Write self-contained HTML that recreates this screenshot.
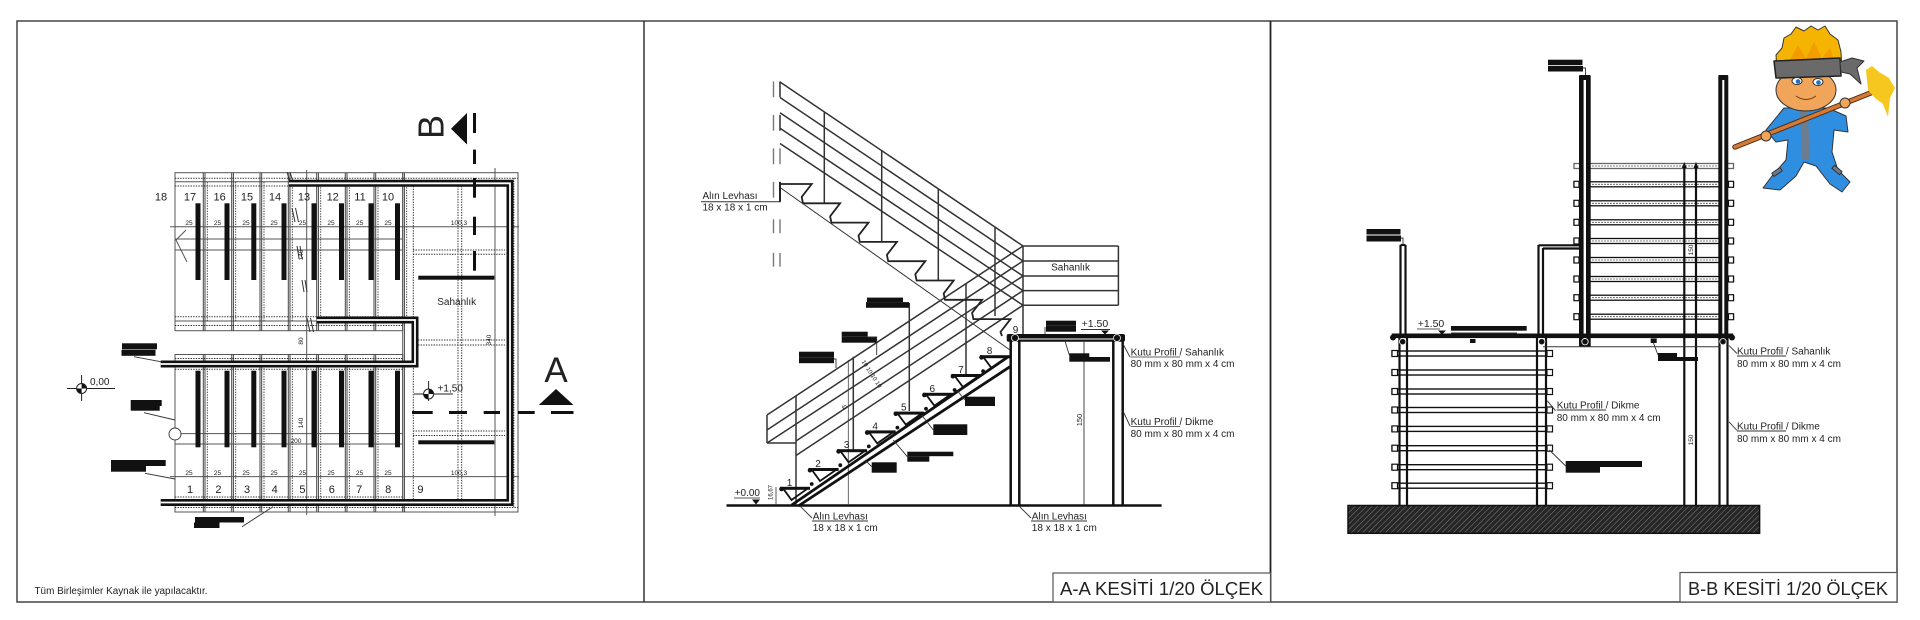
<!DOCTYPE html>
<html><head><meta charset="utf-8"><style>
html,body{margin:0;padding:0;background:#fff;}
svg{display:block;}
text{font-family:"Liberation Sans",Arial,sans-serif;fill:#222;}
</style></head><body>
<svg width="1920" height="620" viewBox="0 0 1920 620" xmlns="http://www.w3.org/2000/svg">
<defs>
<pattern id="hatch" width="4" height="4" patternUnits="userSpaceOnUse" patternTransform="rotate(45)">
<rect width="4" height="4" fill="#262626"/>
<line x1="0" y1="0" x2="0" y2="4" stroke="#808080" stroke-width="1"/>
</pattern>
</defs>
<rect width="1920" height="620" fill="#fff"/>
<!-- FRAME -->
<rect x="17" y="21" width="1880" height="581" fill="none" stroke="#444" stroke-width="1.5"/>
<line x1="644" y1="21" x2="644" y2="602" stroke="#333" stroke-width="1.5"/>
<line x1="1270.5" y1="21" x2="1270.5" y2="602" stroke="#222" stroke-width="1.8"/>

<!-- ================= PLAN VIEW ================= -->
<g stroke="#555" stroke-width="1" fill="none">
  <rect x="175" y="172.7" width="227.7" height="158"/>
  <rect x="175" y="354.5" width="227.7" height="157.5"/>
  <rect x="402.7" y="172.7" width="115.3" height="339.3"/>
  <line x1="175" y1="181.7" x2="402.7" y2="181.7"/>
  <line x1="175" y1="321" x2="402.7" y2="321"/>
  <line x1="175" y1="363" x2="402.7" y2="363"/>
  <line x1="175" y1="503" x2="402.7" y2="503"/>
  <g stroke="#444">
  <line x1="203.3" y1="172.7" x2="203.3" y2="330.7"/><line x1="205" y1="172.7" x2="205" y2="330.7"/>
  <line x1="231.7" y1="172.7" x2="231.7" y2="330.7"/><line x1="233.4" y1="172.7" x2="233.4" y2="330.7"/>
  <line x1="260" y1="172.7" x2="260" y2="330.7"/><line x1="261.7" y1="172.7" x2="261.7" y2="330.7"/>
  <line x1="288.3" y1="172.7" x2="288.3" y2="330.7"/><line x1="290" y1="172.7" x2="290" y2="330.7"/>
  <line x1="316.7" y1="172.7" x2="316.7" y2="330.7"/><line x1="318.4" y1="172.7" x2="318.4" y2="330.7"/>
  <line x1="345.3" y1="172.7" x2="345.3" y2="330.7"/><line x1="347" y1="172.7" x2="347" y2="330.7"/>
  <line x1="374" y1="172.7" x2="374" y2="330.7"/><line x1="375.7" y1="172.7" x2="375.7" y2="330.7"/>
  <line x1="404.4" y1="172.7" x2="404.4" y2="512"/>
  <line x1="203.3" y1="354.5" x2="203.3" y2="512"/><line x1="205" y1="354.5" x2="205" y2="512"/>
  <line x1="231.7" y1="354.5" x2="231.7" y2="512"/><line x1="233.4" y1="354.5" x2="233.4" y2="512"/>
  <line x1="260" y1="354.5" x2="260" y2="512"/><line x1="261.7" y1="354.5" x2="261.7" y2="512"/>
  <line x1="288.3" y1="354.5" x2="288.3" y2="512"/><line x1="290" y1="354.5" x2="290" y2="512"/>
  <line x1="316.7" y1="354.5" x2="316.7" y2="512"/><line x1="318.4" y1="354.5" x2="318.4" y2="512"/>
  <line x1="345.3" y1="354.5" x2="345.3" y2="512"/><line x1="347" y1="354.5" x2="347" y2="512"/>
  <line x1="374" y1="354.5" x2="374" y2="512"/><line x1="375.7" y1="354.5" x2="375.7" y2="512"/>
  </g>
  <line x1="170" y1="226.7" x2="519" y2="226.7"/>
  <line x1="175" y1="239" x2="403" y2="239"/>
  <line x1="175" y1="250" x2="403" y2="250"/>
  <line x1="181" y1="433.6" x2="403" y2="433.6"/>
  <line x1="175" y1="444" x2="403" y2="444"/>
  <line x1="170" y1="476.6" x2="519" y2="476.6"/>
  <line x1="306.7" y1="170" x2="306.7" y2="515"/>
  <line x1="495" y1="168" x2="495" y2="516"/>
  <polyline points="186,230 176,240 187,262"/>
</g>
<!-- dotted lines -->
<g stroke="#333" stroke-width="1" stroke-dasharray="1.4,1.2" fill="none">
  <line x1="175" y1="178.3" x2="402.7" y2="178.3"/>
  <line x1="175" y1="186" x2="402.7" y2="186"/>
  <line x1="175" y1="316.7" x2="402.7" y2="316.7"/>
  <line x1="175" y1="325.5" x2="402.7" y2="325.5"/>
  <line x1="175" y1="358.5" x2="402.7" y2="358.5"/>
  <line x1="175" y1="369.3" x2="402.7" y2="369.3"/>
  <line x1="175" y1="497" x2="402.7" y2="497"/>
  <line x1="175" y1="507.5" x2="402.7" y2="507.5"/>
  <line x1="402.7" y1="178.3" x2="518" y2="178.3"/>
  <line x1="402.7" y1="507.5" x2="518" y2="507.5"/>
  <line x1="413.3" y1="186" x2="413.3" y2="500"/>
  <line x1="458" y1="186" x2="458" y2="500"/>
  <line x1="461.7" y1="186" x2="461.7" y2="500"/>
  <line x1="513.8" y1="178" x2="513.8" y2="508"/>
  <line x1="413" y1="250" x2="505" y2="250"/>
  <line x1="413" y1="254.3" x2="505" y2="254.3"/>
  <line x1="418" y1="340" x2="505" y2="340"/>
  <line x1="418" y1="345" x2="505" y2="345"/>
  <line x1="413" y1="431" x2="505" y2="431"/>
  <line x1="413" y1="435.5" x2="505" y2="435.5"/>
  <g stroke-width="0.9">
  <line x1="207.3" y1="182" x2="207.3" y2="321"/>
  <line x1="235.7" y1="182" x2="235.7" y2="321"/>
  <line x1="264" y1="182" x2="264" y2="321"/>
  <line x1="292.3" y1="182" x2="292.3" y2="321"/>
  <line x1="320.7" y1="182" x2="320.7" y2="321"/>
  <line x1="349.3" y1="182" x2="349.3" y2="321"/>
  <line x1="378" y1="182" x2="378" y2="321"/>
  <line x1="406.7" y1="182" x2="406.7" y2="321"/>
  <line x1="207.3" y1="363" x2="207.3" y2="503"/>
  <line x1="235.7" y1="363" x2="235.7" y2="503"/>
  <line x1="264" y1="363" x2="264" y2="503"/>
  <line x1="292.3" y1="363" x2="292.3" y2="503"/>
  <line x1="320.7" y1="363" x2="320.7" y2="503"/>
  <line x1="349.3" y1="363" x2="349.3" y2="503"/>
  <line x1="378" y1="363" x2="378" y2="503"/>
  </g>
</g>
<!-- break marks -->
<g stroke="#333" stroke-width="1" fill="none">
  <line x1="287" y1="172" x2="290" y2="182"/><line x1="290" y1="172" x2="293" y2="182"/>
  <line x1="292" y1="208" x2="295" y2="222"/><line x1="295.5" y1="208" x2="298.5" y2="222"/>
  <line x1="297" y1="246" x2="299" y2="258"/><line x1="300" y1="246" x2="302" y2="258"/>
  <line x1="302" y1="280" x2="304" y2="292"/><line x1="305" y1="280" x2="307" y2="292"/>
  <line x1="307" y1="318" x2="310" y2="332"/><line x1="310.5" y1="318" x2="313.5" y2="332"/>
</g>
<!-- tread bars -->
<g fill="#111">
  <rect x="195.5" y="203.3" width="5" height="76.7"/><rect x="224.5" y="203.3" width="5" height="76.7"/>
  <rect x="251.3" y="203.3" width="5" height="76.7"/><rect x="281.5" y="203.3" width="5" height="76.7"/>
  <rect x="311.5" y="203.3" width="5" height="76.7"/><rect x="339" y="203.3" width="5" height="76.7"/>
  <rect x="368.5" y="203.3" width="5" height="76.7"/><rect x="395" y="203.3" width="5" height="76.7"/>
  <rect x="195.5" y="370.7" width="5" height="76.6"/><rect x="224.5" y="370.7" width="5" height="76.6"/>
  <rect x="251.3" y="370.7" width="5" height="76.6"/><rect x="281.5" y="370.7" width="5" height="76.6"/>
  <rect x="311.5" y="370.7" width="5" height="76.6"/><rect x="339" y="370.7" width="5" height="76.6"/>
  <rect x="368.5" y="370.7" width="5" height="76.6"/><rect x="395" y="370.7" width="5" height="76.6"/>
  <rect x="418.3" y="275.7" width="76" height="4"/>
  <rect x="418.3" y="440.3" width="76" height="4"/>
</g>
<!-- handrails -->
<g fill="none" stroke-linejoin="miter">
  <path d="M289,183.3 H510 V502.5 H160.7" stroke="#111" stroke-width="7"/>
  <path d="M289,183.3 H510 V502.5 H160.7" stroke="#fff" stroke-width="1.8"/>
  <path d="M316.7,320 H415 V364 H160.7" stroke="#111" stroke-width="7"/>
  <path d="M316.7,320 H415 V364 H160.7" stroke="#fff" stroke-width="1.8"/>
</g>
<!-- numbers -->
<g font-size="11" text-anchor="middle">
  <text x="161" y="200.5">18</text><text x="190" y="200.5">17</text><text x="219.6" y="200.5">16</text>
  <text x="247" y="200.5">15</text><text x="275" y="200.5">14</text><text x="304" y="200.5">13</text>
  <text x="332.7" y="200.5">12</text><text x="360" y="200.5">11</text><text x="388" y="200.5">10</text>
  <text x="190" y="493">1</text><text x="218.4" y="493">2</text><text x="247" y="493">3</text>
  <text x="274.7" y="493">4</text><text x="302.4" y="493">5</text><text x="331.8" y="493">6</text>
  <text x="359.2" y="493">7</text><text x="388.2" y="493">8</text><text x="420.4" y="493">9</text>
</g>
<g font-size="6.5" text-anchor="middle">
  <text x="189" y="225">25</text><text x="217.5" y="225">25</text><text x="246" y="225">25</text><text x="274" y="225">25</text>
  <text x="302.5" y="225">25</text><text x="331" y="225">25</text><text x="359.6" y="225">25</text><text x="388" y="225">25</text>
  <text x="459" y="225">100,3</text>
  <text x="189" y="475">25</text><text x="217.5" y="475">25</text><text x="246" y="475">25</text><text x="274" y="475">25</text>
  <text x="302.5" y="475">25</text><text x="331" y="475">25</text><text x="359.6" y="475">25</text><text x="388" y="475">25</text>
  <text x="459" y="475">100,3</text>
  <text x="296" y="443">200</text>
  <text transform="translate(303,341) rotate(-90)">80</text>
  <text transform="translate(303,255) rotate(-90)">140</text>
  <text transform="translate(303,423) rotate(-90)">140</text>
  <text transform="translate(491,340) rotate(-90)">340</text>
</g>
<text x="456.7" y="305" font-size="10" text-anchor="middle">Sahanlık</text>
<!-- section B marker -->
<g fill="#111">
  <rect x="473" y="113" width="3" height="20"/>
  <rect x="473" y="149.6" width="3" height="14.4"/>
  <rect x="473" y="178" width="3" height="19.7"/>
  <rect x="473" y="216.7" width="3" height="18.3"/>
  <rect x="473" y="251" width="3" height="19.7"/>
  <polygon points="451,128.7 467,113 467,144.5"/>
</g>
<text transform="translate(443.5,127) rotate(-90)" font-size="36" text-anchor="middle" fill="#111">B</text>
<!-- section A marker -->
<g fill="#111">
  <rect x="412" y="411" width="20.7" height="3"/>
  <rect x="449" y="411" width="18" height="3"/>
  <rect x="483.7" y="411" width="16.3" height="3"/>
  <rect x="518" y="411" width="16.7" height="3"/>
  <rect x="551" y="411" width="22.5" height="3"/>
  <polygon points="538.8,405 573.5,405 556,389"/>
</g>
<text x="556" y="382" font-size="35" text-anchor="middle" fill="#111">A</text>
<!-- elevation markers -->
<g stroke="#222" stroke-width="1" fill="none">
  <line x1="67" y1="388.5" x2="115" y2="388.5"/>
  <line x1="81.6" y1="375" x2="81.6" y2="401"/>
  <circle cx="81.6" cy="388.5" r="5" fill="#fff"/>
  <line x1="414" y1="394" x2="453" y2="394"/>
  <line x1="428.6" y1="381" x2="428.6" y2="401"/>
  <circle cx="428.6" cy="394" r="5" fill="#fff"/>
</g>
<path d="M81.6,388.5 V383.5 A5,5 0 0 1 86.6,388.5 Z M81.6,388.5 V393.5 A5,5 0 0 1 76.6,388.5 Z" fill="#111"/>
<path d="M428.6,394 V389 A5,5 0 0 1 433.6,394 Z M428.6,394 V399 A5,5 0 0 1 423.6,394 Z" fill="#111"/>
<text x="90" y="385" font-size="10">0,00</text>
<text x="437.6" y="391.5" font-size="10">+1,50</text>
<!-- labels -->
<g fill="#111">
  <rect x="122" y="343.3" width="35" height="6"/><rect x="121.5" y="349.8" width="34" height="6"/>
  <rect x="130.7" y="400" width="31" height="6"/><rect x="130.7" y="406" width="29" height="4.7"/>
  <rect x="111" y="460" width="54.7" height="6"/><rect x="111" y="466" width="35" height="5.7"/>
  <rect x="195" y="517" width="49" height="5.5"/><rect x="194" y="522.5" width="25.5" height="5.5"/>
</g>
<g stroke="#333" stroke-width="0.9" fill="none">
  <line x1="134" y1="356.7" x2="160.7" y2="361.7"/>
  <line x1="144" y1="412.7" x2="175" y2="420"/>
  <line x1="145" y1="473.3" x2="175" y2="479"/>
  <line x1="242" y1="526.7" x2="273" y2="506.7"/>
  <circle cx="175" cy="434" r="6" fill="#fff"/>
</g>
<text x="34.5" y="594" font-size="10" textLength="173" lengthAdjust="spacingAndGlyphs">Tüm Birleşimler Kaynak ile yapılacaktır.</text>

<!-- ================= SECTION A-A ================= -->
<line x1="726.5" y1="505.5" x2="1161.6" y2="505.5" stroke="#111" stroke-width="2.5"/>
<text x="734.7" y="496" font-size="10">+0.00</text>
<line x1="734" y1="498" x2="760" y2="498" stroke="#222" stroke-width="0.8"/>
<polygon points="752,499.5 760,499.5 756,504.5" fill="#111"/>
<line x1="776" y1="487" x2="776" y2="505" stroke="#333" stroke-width="0.8"/>
<text transform="translate(772.6,500) rotate(-90)" font-size="6">16,67</text>
<g stroke-width="1.4">
  <line x1="773.5" y1="81.4" x2="773.5" y2="97.2" stroke="#777"/><line x1="780" y1="81.4" x2="780" y2="97.2" stroke="#222"/>
  <line x1="773.5" y1="114.9" x2="773.5" y2="130.7" stroke="#777"/><line x1="780" y1="114.9" x2="780" y2="130.7" stroke="#222"/>
  <line x1="773.5" y1="148.4" x2="773.5" y2="164.2" stroke="#777"/><line x1="780" y1="148.4" x2="780" y2="164.2" stroke="#777"/>
  <line x1="773.5" y1="181.9" x2="773.5" y2="197.7" stroke="#777"/><line x1="780" y1="181.9" x2="780" y2="201.7" stroke="#222" stroke-width="2"/>
  <line x1="773.5" y1="219.4" x2="773.5" y2="233.2" stroke="#777"/><line x1="780" y1="219.4" x2="780" y2="233.2" stroke="#777"/>
  <line x1="773.5" y1="252.9" x2="773.5" y2="266.7" stroke="#777"/><line x1="780" y1="252.9" x2="780" y2="266.7" stroke="#777"/>
</g>
<g stroke="#333" stroke-width="1.5" fill="none">
  <line x1="780" y1="82" x2="1023" y2="246"/>
  <line x1="780" y1="97.5" x2="1023" y2="261"/>
  <line x1="780" y1="112.8" x2="1023" y2="276"/>
  <line x1="780" y1="128.2" x2="1023" y2="290.6"/>
  <line x1="780" y1="143.5" x2="1023" y2="305.2"/>
  <line x1="824.3" y1="112.3" x2="824.3" y2="203.3"/>
  <line x1="881.7" y1="151" x2="881.7" y2="241.7"/>
  <line x1="938.3" y1="189.3" x2="938.3" y2="280"/>
  <line x1="995" y1="227.5" x2="995" y2="316"/>
  <line x1="1023" y1="246" x2="1023" y2="334"/>
  <line x1="1023" y1="246" x2="1118.4" y2="246"/>
  <line x1="1023" y1="261" x2="1118.4" y2="261"/>
  <line x1="1023" y1="276" x2="1118.4" y2="276"/>
  <line x1="1023" y1="290.6" x2="1118.4" y2="290.6"/>
  <line x1="1023" y1="305.2" x2="1118.4" y2="305.2"/>
  <line x1="1118.4" y1="246" x2="1118.4" y2="305.2"/>
  <line x1="767" y1="415" x2="1023" y2="246"/>
  <line x1="767" y1="430" x2="1023" y2="261"/>
  <line x1="767" y1="443" x2="1023" y2="276"/>
  <line x1="796" y1="441" x2="1023" y2="290.6"/>
  <line x1="796" y1="455.5" x2="1023" y2="305.2"/>
  <line x1="767" y1="415" x2="767" y2="443"/>
  <line x1="767" y1="443" x2="796" y2="443"/>
  <line x1="796" y1="396" x2="796" y2="505"/>
  <line x1="853.3" y1="356.7" x2="853.3" y2="450.7"/>
  <line x1="909.3" y1="303" x2="909.3" y2="411"/>
  <line x1="966" y1="284" x2="966" y2="375"/>
</g>
<line x1="848.3" y1="360" x2="848.3" y2="505" stroke="#444" stroke-width="0.8"/>
<text transform="translate(847,407) rotate(-90)" font-size="7" text-anchor="middle">6</text>
<text transform="translate(870,375) rotate(57)" font-size="6" text-anchor="middle">10  10  10  10</text>
<polyline fill="none" stroke="#222" stroke-width="1.8" points="780.7,184 811.7,184 801.7,197 803,203.3 809.1,203.3 840.1,203.3 830.1,216.3 831.4,222.6 837.5,222.6 868.5,222.6 858.5,235.6 859.8,241.9 865.9,241.9 896.9,241.9 886.9,254.9 888.2,261.2 894.3,261.2 925.3,261.2 915.3,274.2 916.6,280.5 922.7,280.5 953.7,280.5 943.7,293.5 945,299.8 951.1,299.8 982.1,299.8 972.1,312.8 973.4,319.1 979.5,319.1 1010.5,319.1 1000.5,332 1002,336"/>
<line x1="780.7" y1="188" x2="1010" y2="350" stroke="#333" stroke-width="1"/>
<line x1="701" y1="201.7" x2="780.7" y2="201.7" stroke="#333" stroke-width="1"/>
<text x="702.5" y="199" font-size="10">Alın Levhası</text>
<text x="702.5" y="210.5" font-size="10">18 x 18 x 1 cm</text>
<line x1="791.7" y1="505" x2="1008.3" y2="356.7" stroke="#111" stroke-width="2.8"/>
<line x1="798.3" y1="506" x2="1010" y2="366.7" stroke="#111" stroke-width="2.8"/>
<g fill="#111">
  <rect x="780" y="486.8" width="30" height="3"/><rect x="808.6" y="468" width="30" height="3"/>
  <rect x="837.1" y="449.2" width="30" height="3"/><rect x="865.7" y="430.4" width="30" height="3"/>
  <rect x="894.3" y="411.6" width="30" height="3"/><rect x="922.9" y="392.8" width="30" height="3"/>
  <rect x="951.4" y="374" width="30" height="3"/><rect x="980" y="355.2" width="30" height="3"/>
  <circle cx="781.5" cy="489" r="2.3"/><circle cx="810" cy="470.2" r="2.3"/><circle cx="838.6" cy="451.4" r="2.3"/>
  <circle cx="867.2" cy="432.6" r="2.3"/><circle cx="895.8" cy="413.8" r="2.3"/><circle cx="924.4" cy="395" r="2.3"/>
  <circle cx="952.9" cy="376.2" r="2.3"/><circle cx="981.5" cy="357.4" r="2.3"/>
  <circle cx="811.7" cy="484" r="1.9"/><circle cx="840.3" cy="465.2" r="1.9"/><circle cx="868.8" cy="446.4" r="1.9"/>
  <circle cx="897.4" cy="427.6" r="1.9"/><circle cx="926" cy="408.8" r="1.9"/><circle cx="954.6" cy="390" r="1.9"/>
  <circle cx="983.1" cy="371.2" r="1.9"/>
</g>
<g fill="none" stroke="#111" stroke-width="1.8">
  <polyline points="783,488.3 791.5,500 808,488.3"/>
  <polyline points="811.6,469.5 820,481 836.6,469.5"/>
  <polyline points="840.1,450.7 848.6,462.2 865.1,450.7"/>
  <polyline points="868.7,431.9 877.2,443.4 893.7,431.9"/>
  <polyline points="897.3,413.1 905.8,424.6 922.3,413.1"/>
  <polyline points="925.9,394.3 934.4,405.8 950.9,394.3"/>
  <polyline points="954.4,375.5 962.9,387 979.4,375.5"/>
  <polyline points="983,356.7 991.5,368 1008,356.7"/>
</g>
<g font-size="10" text-anchor="middle">
  <text x="789.5" y="486">1</text><text x="818" y="467">2</text><text x="846.6" y="448">3</text>
  <text x="875.2" y="429.5">4</text><text x="903.8" y="410.5">5</text><text x="932.3" y="392">6</text>
  <text x="960.9" y="373">7</text><text x="989.5" y="354">8</text><text x="1015.5" y="333">9</text>
</g>
<rect x="1006.7" y="334" width="118.3" height="7.7" fill="#111" rx="2"/>
<line x1="1018" y1="339" x2="1113" y2="339" stroke="#fff" stroke-width="1"/>
<circle cx="1015" cy="338" r="3.5" fill="#111" stroke="#fff" stroke-width="0.8"/>
<circle cx="1117" cy="338" r="3.5" fill="#111" stroke="#fff" stroke-width="0.8"/>
<g stroke="#111" stroke-width="2.5">
  <line x1="1010.7" y1="341" x2="1010.7" y2="505.5"/>
  <line x1="1019.3" y1="341" x2="1019.3" y2="505.5"/>
  <line x1="1113.3" y1="341" x2="1113.3" y2="505.5"/>
  <line x1="1122.7" y1="341" x2="1122.7" y2="505.5"/>
</g>
<line x1="1084" y1="341" x2="1084" y2="505" stroke="#333" stroke-width="0.9"/>
<text transform="translate(1082,420) rotate(-90)" font-size="7.5" text-anchor="middle">150</text>
<text x="1070.6" y="270.5" font-size="10" text-anchor="middle">Sahanlık</text>
<g fill="#111">
  <rect x="867" y="297.6" width="36" height="4.5"/><rect x="866" y="302.1" width="43" height="5.7"/>
  <rect x="841.7" y="331.7" width="26" height="5"/><rect x="841.7" y="336.7" width="35" height="6"/>
  <rect x="799" y="351.7" width="35" height="5.5"/><rect x="799" y="357.2" width="35" height="6"/>
  <rect x="1046" y="320.7" width="30" height="5"/><rect x="1046" y="325.7" width="30" height="6"/>
  <rect x="1069.3" y="353.3" width="20" height="8.4"/><rect x="1089" y="357" width="21" height="4.7"/>
  <rect x="965" y="396.7" width="30" height="9.3"/>
  <rect x="933.3" y="424.3" width="34" height="10.7"/>
  <rect x="907.3" y="451.7" width="46" height="4.5"/><rect x="907.3" y="456.2" width="22" height="5.5"/>
  <rect x="871.7" y="462.3" width="25" height="10.4"/>
</g>
<g stroke="#333" stroke-width="0.9" fill="none">
  <polyline points="867.7,337 876.7,337 876.7,355"/>
  <polyline points="834,359 836,359 836,368"/>
  <line x1="1045" y1="327" x2="1045" y2="334"/>
  <line x1="1065" y1="341" x2="1069.3" y2="355"/>
  <line x1="956.7" y1="390" x2="965" y2="400"/>
  <line x1="921.7" y1="415" x2="933.3" y2="430"/>
  <line x1="893.3" y1="440" x2="907.3" y2="456.7"/>
  <line x1="865" y1="460" x2="871.7" y2="466.7"/>
  <line x1="800" y1="506" x2="812" y2="518"/>
  <line x1="812" y1="521" x2="868" y2="521"/>
  <line x1="1019" y1="506" x2="1031" y2="518"/>
  <line x1="1031" y1="521" x2="1087" y2="521"/>
  <line x1="1123" y1="344" x2="1130" y2="357"/>
  <line x1="1123" y1="411" x2="1130" y2="426"/>
  <line x1="1081" y1="329.5" x2="1110" y2="329.5"/>
</g>
<polygon points="1101,330.5 1109,330.5 1105,334.5" fill="#111"/>
<text x="1081.6" y="327" font-size="10.5">+1.50</text>
<g font-size="10">
  <text x="812.7" y="519.5">Alın Levhası</text><text x="812.7" y="531">18 x 18 x 1 cm</text>
  <text x="1031.8" y="519.5">Alın Levhası</text><text x="1031.8" y="531">18 x 18 x 1 cm</text>
  <text x="1130.6" y="355.5">Kutu Profil / Sahanlık</text>
  <text x="1130.6" y="367">80 mm x 80 mm x 4 cm</text>
  <text x="1130.6" y="425">Kutu Profil / Dikme</text>
  <text x="1130.6" y="437">80 mm x 80 mm x 4 cm</text>
</g>
<line x1="1130.6" y1="357" x2="1180" y2="357" stroke="#333" stroke-width="0.8"/>
<line x1="1130.6" y1="426.5" x2="1180" y2="426.5" stroke="#333" stroke-width="0.8"/>
<rect x="1053" y="573" width="217.5" height="29" fill="#fff" stroke="#555" stroke-width="1.2"/>
<text x="1060" y="595" font-size="18" textLength="203" lengthAdjust="spacingAndGlyphs">A-A KESİTİ 1/20 ÖLÇEK</text>

<!-- ================= SECTION B-B ================= -->
<rect x="1348" y="505.5" width="411.6" height="27.8" fill="url(#hatch)" stroke="#111" stroke-width="1.5"/>
<g fill="#fff" stroke="#111" stroke-width="1.4">
  <rect x="1392" y="351" width="160" height="5"/><rect x="1392" y="370" width="160" height="5"/>
  <rect x="1392" y="389" width="160" height="5"/><rect x="1392" y="407.5" width="160" height="5"/>
  <rect x="1392" y="426.4" width="160" height="5"/><rect x="1392" y="445.7" width="160" height="5"/>
  <rect x="1392" y="464.7" width="160" height="5"/><rect x="1392" y="483.2" width="160" height="5"/>
</g>
<g fill="#fff" stroke="#111" stroke-width="1.3">
  <rect x="1574" y="163.5" width="159.5" height="5" stroke="#666"/>
  <rect x="1574" y="181.8" width="159.5" height="5"/><rect x="1574" y="200.8" width="159.5" height="5"/>
  <rect x="1574" y="219.8" width="159.5" height="5"/><rect x="1574" y="238.5" width="159.5" height="5"/>
  <rect x="1574" y="257.5" width="159.5" height="5"/><rect x="1574" y="276.5" width="159.5" height="5"/>
  <rect x="1574" y="295.2" width="159.5" height="5"/><rect x="1574" y="314.2" width="159.5" height="5"/>
</g>
<g stroke="#555" stroke-width="0.8" stroke-dasharray="2,1">
  <line x1="1592" y1="166" x2="1718" y2="166"/><line x1="1592" y1="184.3" x2="1718" y2="184.3"/>
  <line x1="1592" y1="203.3" x2="1718" y2="203.3"/><line x1="1592" y1="222.3" x2="1718" y2="222.3"/>
  <line x1="1592" y1="241" x2="1718" y2="241"/><line x1="1592" y1="260" x2="1718" y2="260"/>
  <line x1="1592" y1="279" x2="1718" y2="279"/><line x1="1592" y1="297.7" x2="1718" y2="297.7"/>
  <line x1="1592" y1="316.7" x2="1718" y2="316.7"/>
</g>
<g fill="#fff" stroke="#111" stroke-width="1.2">
  <rect x="1574" y="181.3" width="5" height="6"/><rect x="1728.5" y="181.3" width="5" height="6"/>
  <rect x="1574" y="200.3" width="5" height="6"/><rect x="1728.5" y="200.3" width="5" height="6"/>
  <rect x="1574" y="219.3" width="5" height="6"/><rect x="1728.5" y="219.3" width="5" height="6"/>
  <rect x="1574" y="238" width="5" height="6"/><rect x="1728.5" y="238" width="5" height="6"/>
  <rect x="1574" y="257" width="5" height="6"/><rect x="1728.5" y="257" width="5" height="6"/>
  <rect x="1574" y="276" width="5" height="6"/><rect x="1728.5" y="276" width="5" height="6"/>
  <rect x="1574" y="294.7" width="5" height="6"/><rect x="1728.5" y="294.7" width="5" height="6"/>
  <rect x="1574" y="313.7" width="5" height="6"/><rect x="1728.5" y="313.7" width="5" height="6"/>
  <rect x="1392" y="350.5" width="5.5" height="6"/><rect x="1547" y="350.5" width="5.5" height="6"/>
  <rect x="1392" y="369.5" width="5.5" height="6"/><rect x="1547" y="369.5" width="5.5" height="6"/>
  <rect x="1392" y="388.5" width="5.5" height="6"/><rect x="1547" y="388.5" width="5.5" height="6"/>
  <rect x="1392" y="407" width="5.5" height="6"/><rect x="1547" y="407" width="5.5" height="6"/>
  <rect x="1392" y="425.9" width="5.5" height="6"/><rect x="1547" y="425.9" width="5.5" height="6"/>
  <rect x="1392" y="445.2" width="5.5" height="6"/><rect x="1547" y="445.2" width="5.5" height="6"/>
  <rect x="1392" y="464.2" width="5.5" height="6"/><rect x="1547" y="464.2" width="5.5" height="6"/>
  <rect x="1392" y="482.7" width="5.5" height="6"/><rect x="1547" y="482.7" width="5.5" height="6"/>
</g>
<g stroke="#111" stroke-width="2.2">
  <line x1="1399.5" y1="338" x2="1399.5" y2="505"/><line x1="1407" y1="338" x2="1407" y2="505"/>
  <line x1="1537" y1="338" x2="1537" y2="505"/><line x1="1546" y1="338" x2="1546" y2="505"/>
  <line x1="1719.5" y1="338" x2="1719.5" y2="505"/><line x1="1727.5" y1="338" x2="1727.5" y2="505"/>
  <line x1="1684.3" y1="166" x2="1684.3" y2="505"/><line x1="1696" y1="166" x2="1696" y2="505"/>
  <line x1="1400.5" y1="245" x2="1400.5" y2="335"/><line x1="1405.5" y1="245" x2="1405.5" y2="335"/>
  <line x1="1400.5" y1="245" x2="1405.5" y2="245"/>
  <line x1="1538.5" y1="245" x2="1538.5" y2="335"/><line x1="1543" y1="248" x2="1543" y2="335"/>
  <line x1="1538.5" y1="245.3" x2="1580" y2="245.3"/><line x1="1543" y1="248.5" x2="1580" y2="248.5"/>
</g>
<polygon points="1681.8,168 1684.3,162 1686.8,168" fill="#111"/>
<polygon points="1693.5,168 1696,162 1698.5,168" fill="#111"/>
<rect x="1579" y="75" width="11.7" height="272" fill="#111" rx="1"/>
<rect x="1583.6" y="80" width="2.4" height="262" fill="#fff"/>
<rect x="1718.3" y="75" width="10" height="265" fill="#111" rx="1"/>
<rect x="1722.3" y="80" width="2" height="255" fill="#fff"/>
<rect x="1391.7" y="333.5" width="341.6" height="4.6" fill="#111"/>
<circle cx="1393" cy="337.5" r="3" fill="#111"/><circle cx="1732" cy="337.5" r="3" fill="#111"/>
<line x1="1543" y1="346.7" x2="1720" y2="346.7" stroke="#333" stroke-width="1"/>
<g fill="#111" stroke="#fff" stroke-width="0.8">
  <circle cx="1402.7" cy="341.7" r="3.2"/><circle cx="1541.7" cy="341.7" r="3.2"/>
  <circle cx="1585" cy="341.7" r="3.2"/><circle cx="1723" cy="341.7" r="3.2"/>
</g>
<text x="1417.7" y="327" font-size="10.5">+1.50</text>
<line x1="1417" y1="329" x2="1440" y2="329" stroke="#222" stroke-width="0.8"/>
<polygon points="1438,330.5 1446,330.5 1442,334.5" fill="#111"/>
<g fill="#111">
  <rect x="1451" y="326" width="75.7" height="4.7"/>
  <rect x="1470" y="339" width="5.5" height="4"/>
  <rect x="1650.7" y="338.5" width="6" height="4.5"/>
  <rect x="1658" y="353" width="19" height="8"/><rect x="1677" y="357" width="21" height="4"/>
  <rect x="1565.7" y="461" width="76.3" height="6"/><rect x="1565.7" y="467" width="34.3" height="5.7"/>
  <rect x="1548" y="59.7" width="34.5" height="5.5"/><rect x="1548" y="66" width="35" height="5.5"/>
  <rect x="1366.5" y="229" width="34" height="5.5"/><rect x="1366.5" y="235.5" width="34.5" height="6"/>
</g>
<g stroke="#333" stroke-width="0.9" fill="none">
  <line x1="1451" y1="333" x2="1517" y2="333"/>
  <line x1="1653.5" y1="343" x2="1658" y2="355"/>
  <line x1="1549.4" y1="450" x2="1565.7" y2="466"/>
  <polyline points="1583,68 1585.5,68 1585.5,75"/>
  <polyline points="1401,238 1403,238 1403,245"/>
  <line x1="1729" y1="345.6" x2="1737" y2="353.5"/>
  <line x1="1547.3" y1="400.8" x2="1555.5" y2="410.7"/>
  <line x1="1729" y1="421.8" x2="1737" y2="430.5"/>
  <line x1="1737" y1="356" x2="1786" y2="356"/>
  <line x1="1556.7" y1="410" x2="1606" y2="410"/>
  <line x1="1737" y1="431" x2="1786" y2="431"/>
</g>
<g font-size="10">
  <text x="1737" y="354.5">Kutu Profil / Sahanlık</text>
  <text x="1737" y="367">80 mm x 80 mm x 4 cm</text>
  <text x="1556.7" y="408.5">Kutu Profil / Dikme</text>
  <text x="1556.7" y="421">80 mm x 80 mm x 4 cm</text>
  <text x="1737" y="429.5">Kutu Profil / Dikme</text>
  <text x="1737" y="442">80 mm x 80 mm x 4 cm</text>
</g>
<text transform="translate(1693,250) rotate(-90)" font-size="6.5" text-anchor="middle">150</text>
<text transform="translate(1693,440) rotate(-90)" font-size="6.5" text-anchor="middle">150</text>
<rect x="1680" y="572.5" width="217" height="29.5" fill="#fff" stroke="#555" stroke-width="1.2"/>
<text x="1688" y="595" font-size="18" textLength="200" lengthAdjust="spacingAndGlyphs">B-B KESİTİ 1/20 ÖLÇEK</text>

<!-- ================= CARTOON ================= -->
<g stroke="#333" stroke-width="1" stroke-linejoin="round">
  <path d="M1784,108 L1828,108 L1846,116 L1848,132 L1834,130 L1832,152 L1838,170 L1850,182 L1842,192 L1830,184 L1816,166 L1804,162 L1796,176 L1780,190 L1763,188 L1772,176 L1786,160 L1788,140 L1776,142 L1766,130 Z" fill="#2f8ee0"/>
  <path d="M1800,112 L1808,112 L1810,160 L1802,160 Z" fill="#6b7d8f" stroke="none"/>
  <rect x="1772" y="170" width="10" height="4" fill="#6b7d8f" transform="rotate(-35 1777 172)"/>
  <rect x="1832" y="168" width="10" height="4" fill="#6b7d8f" transform="rotate(40 1837 170)"/>
  <line x1="1735" y1="147" x2="1873" y2="92" stroke="#5a2d0c" stroke-width="5.5" stroke-linecap="round"/>
  <line x1="1735" y1="147" x2="1873" y2="92" stroke="#d07b3a" stroke-width="3.5" stroke-linecap="round"/>
  <path d="M1866,70 L1872,66 L1879,72 L1889,78 L1895,88 L1890,98 L1888,117 L1883,104 L1875,98 L1868,90 Z" fill="#f6c81f" stroke="none"/>
  <circle cx="1766" cy="136" r="5" fill="#f0a55a"/>
  <circle cx="1845" cy="103" r="5" fill="#f0a55a"/>
  <ellipse cx="1806" cy="90" rx="30" ry="21" fill="#f0a55a"/>
  <path d="M1777,72 L1776,55 L1782,48 L1784,38 L1791,34 L1796,27 L1804,31 L1811,26 L1818,30 L1825,26 L1830,34 L1838,40 L1841,52 L1842,72 Z" fill="#f5b400"/>
  <path d="M1790,60 L1798,45 L1806,58 L1814,42 L1822,58 L1830,48 L1834,60 Z" fill="#f39c00" stroke="none"/>
  <path d="M1774,61 L1840,58 L1841,76 L1776,78 Z" fill="#6a6a6a" stroke="#222" stroke-width="1.5"/>
  <path d="M1840,62 L1852,58 L1864,61 L1857,68 L1861,84 L1850,74 L1841,72 Z" fill="#6a6a6a"/>
  <ellipse cx="1797" cy="81" rx="5" ry="3.5" fill="#fff"/>
  <ellipse cx="1818" cy="82" rx="5" ry="3.5" fill="#fff"/>
</g>
<circle cx="1798" cy="81.5" r="2.3" fill="#1f6fc0"/>
<circle cx="1818.5" cy="82.5" r="2.3" fill="#1f6fc0"/>
<path d="M1796,96 Q1806,103 1816,96" fill="none" stroke="#7a3b10" stroke-width="1"/>
</svg>
</body></html>
